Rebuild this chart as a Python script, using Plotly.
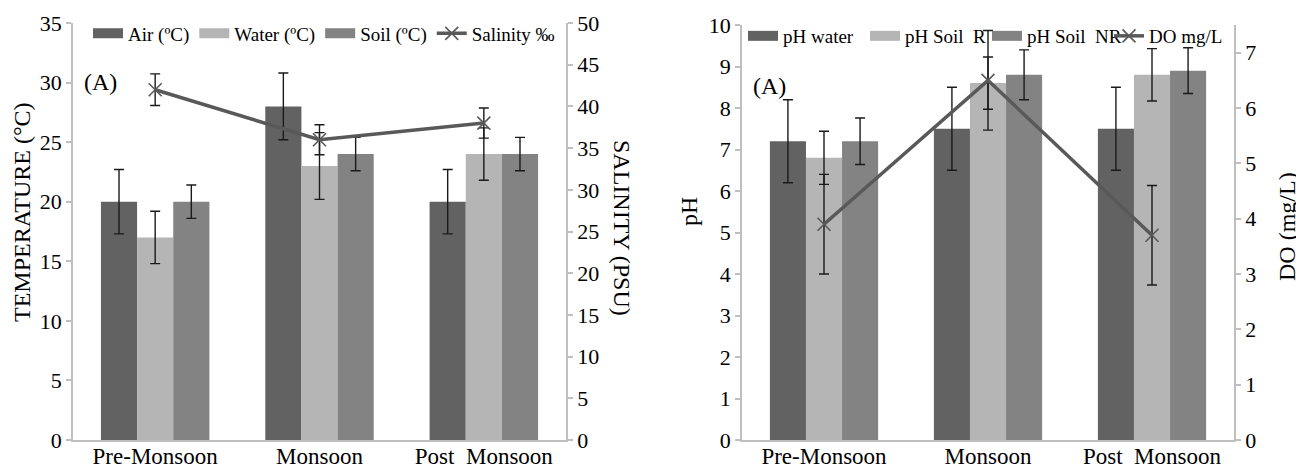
import plotly.graph_objects as go

# ---------------- data ----------------
seasons = ["Pre-Monsoon", "Monsoon", "Post\u00a0 Monsoon"]

air_temp = [20, 28, 20]
air_err = [2.7, 2.8, 2.7]
water_temp = [17, 23, 24]
water_err = [2.2, 2.8, 2.2]
soil_temp = [20, 24, 24]
soil_err = [1.4, 1.4, 1.4]
salinity = [42, 36, 38]
salinity_err = [1.9, 1.8, 1.8]

ph_water = [7.2, 7.5, 7.5]
ph_water_err = [1.0, 1.0, 1.0]
ph_soil_r = [6.8, 8.6, 8.8]
ph_soil_r_err = [0.64, 0.63, 0.63]
ph_soil_nr = [7.2, 8.8, 8.9]
ph_soil_nr_err = [0.56, 0.6, 0.55]
do_mgl = [3.9, 6.5, 3.7]
do_err = [0.9, 0.9, 0.9]

temp_ticks = [0, 5, 10, 15, 20, 25, 30, 35]
sal_ticks = [0, 5, 10, 15, 20, 25, 30, 35, 40, 45, 50]
ph_ticks = [0, 1, 2, 3, 4, 5, 6, 7, 8, 9, 10]
do_ticks = [0, 1, 2, 3, 4, 5, 6, 7]

# ---------------- styles ----------------
FONT = "Liberation Serif"
AXC = "#bfbfbf"
ERRC = "#1a1a1a"
DARK = "#626262"
LIGHT = "#b4b5b4"
MID = "#838383"
LINEC = "#595959"
OFF = 8                      # page body margin
W, H = 1304 - OFF, 474 - OFF


def px(x):
    return (x - OFF) / W


def py(y):
    return 1 - (y - OFF) / H


def err(arr):
    return dict(type="data", array=arr, color=ERRC, thickness=1.4, width=5)


def legend_key(name, color, xa, ya, leg):
    # empty trace used only for a wide rectangular legend key
    return go.Scatter(name=name, x=[seasons[0]], y=[None], mode="lines",
                      line=dict(color=color, width=13), xaxis=xa, yaxis=ya,
                      legend=leg, hoverinfo="skip")


fig = go.Figure()

# legend keys
fig.add_trace(legend_key("Air (ºC)", DARK, "x", "y", "legend"))
fig.add_trace(legend_key("Water (ºC)", LIGHT, "x", "y", "legend"))
fig.add_trace(legend_key("Soil (ºC)", MID, "x", "y", "legend"))
fig.add_trace(legend_key("pH water", DARK, "x2", "y3", "legend2"))
fig.add_trace(legend_key("pH Soil\u00a0 R", LIGHT, "x2", "y3", "legend2"))
fig.add_trace(legend_key("pH Soil\u00a0 NR", MID, "x2", "y3", "legend2"))

# left panel
fig.add_trace(go.Bar(name="Air (ºC)", x=seasons, y=air_temp, error_y=err(air_err),
                     marker_color=DARK, xaxis="x", yaxis="y", showlegend=False))
fig.add_trace(go.Bar(name="Water (ºC)", x=seasons, y=water_temp, error_y=err(water_err),
                     marker_color=LIGHT, xaxis="x", yaxis="y", showlegend=False))
fig.add_trace(go.Bar(name="Soil (ºC)", x=seasons, y=soil_temp, error_y=err(soil_err),
                     marker_color=MID, xaxis="x", yaxis="y", showlegend=False))
fig.add_trace(go.Scatter(name="Salinity ‰", x=seasons, y=salinity, error_y=err(salinity_err),
                         mode="lines+markers", line=dict(color=LINEC, width=3.5),
                         marker=dict(symbol="x-thin", size=13, color=LINEC,
                                     line=dict(color=LINEC, width=1.6)),
                         xaxis="x", yaxis="y2", legend="legend"))

# right panel
fig.add_trace(go.Bar(name="pH water", x=seasons, y=ph_water, error_y=err(ph_water_err),
                     marker_color=DARK, xaxis="x2", yaxis="y3", showlegend=False))
fig.add_trace(go.Bar(name="pH Soil\u00a0 R", x=seasons, y=ph_soil_r, error_y=err(ph_soil_r_err),
                     marker_color=LIGHT, xaxis="x2", yaxis="y3", showlegend=False))
fig.add_trace(go.Bar(name="pH Soil\u00a0 NR", x=seasons, y=ph_soil_nr, error_y=err(ph_soil_nr_err),
                     marker_color=MID, xaxis="x2", yaxis="y3", showlegend=False))
fig.add_trace(go.Scatter(name="DO mg/L", x=seasons, y=do_mgl, error_y=err(do_err),
                         mode="lines+markers", line=dict(color=LINEC, width=3.5),
                         marker=dict(symbol="x-thin", size=13, color=LINEC,
                                     line=dict(color=LINEC, width=1.6)),
                         xaxis="x2", yaxis="y4", legend="legend2"))

common_x = dict(showline=True, linecolor=AXC, linewidth=1.5, ticks="", showgrid=False,
                zeroline=False, ticklabelstandoff=-5,
                tickfont=dict(size=23, family=FONT, color="black"))
common_y = dict(showline=True, linecolor=AXC, linewidth=1.5, ticks="outside", ticklen=5,
                tickcolor=AXC, tickwidth=1.5, showgrid=False, zeroline=False,
                tickfont=dict(size=22, family=FONT, color="black"))

fig.update_layout(
    width=W, height=H, margin=dict(l=0, r=0, t=0, b=0), autosize=False,
    template="none", paper_bgcolor="white", plot_bgcolor="white",
    barmode="group", bargap=0.34, bargroupgap=0,
    font=dict(family=FONT, color="black"),
    xaxis=dict(domain=[px(73), px(566)], anchor="y", **common_x),
    yaxis=dict(domain=[py(440), py(23)], anchor="x", range=[0, 35], tickvals=temp_ticks, **common_y),
    yaxis2=dict(overlaying="y", side="right", anchor="x", range=[0, 50], tickvals=sal_ticks, **common_y),
    xaxis2=dict(domain=[px(742), px(1234)], anchor="y3", **common_x),
    yaxis3=dict(domain=[py(440), py(25)], anchor="x2", range=[0, 10], tickvals=ph_ticks, **common_y),
    yaxis4=dict(overlaying="y3", side="right", anchor="x2", range=[0, 7.5], tickvals=do_ticks, **common_y),
    legend=dict(orientation="h", x=px(88), xanchor="left", y=py(33.5), yanchor="middle",
                font=dict(size=19, family=FONT, color="black"), bgcolor="rgba(0,0,0,0)",
                traceorder="normal"),
    legend2=dict(orientation="h", x=px(743), xanchor="left", y=py(36), yanchor="middle",
                 font=dict(size=19, family=FONT, color="black"), bgcolor="rgba(0,0,0,0)",
                 traceorder="normal", entrywidth=77, entrywidthmode="pixels"),
    showlegend=True,
)

ann_font = dict(family=FONT, size=24, color="black")


def label(text, x, y, angle=0):
    fig.add_annotation(text=text, x=px(x), y=py(y), xref="paper", yref="paper",
                       xanchor="center", yanchor="middle", showarrow=False,
                       textangle=angle, font=ann_font)


label("TEMPERATURE (°C)", 22, 212, -90)
label("SALINITY (PSU)", 622, 228, 90)
label("pH", 689, 211, -90)
label("DO (mg/L)", 1287, 227, -90)
label("(A)", 100, 82)
label("(A)", 770, 86)

fig.write_html("out.html")
